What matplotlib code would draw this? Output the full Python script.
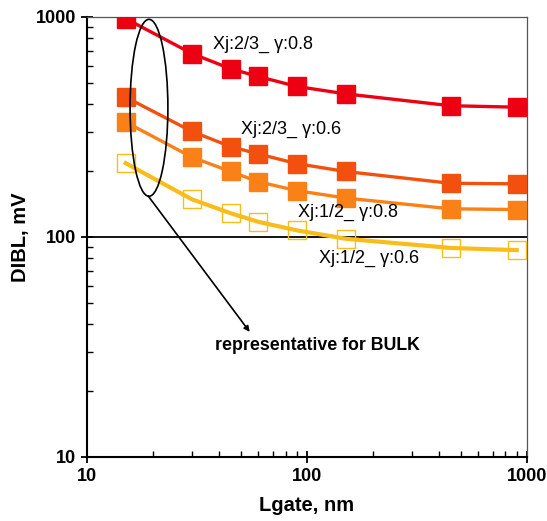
import numpy as np
import matplotlib.pyplot as plt
from matplotlib.patches import Ellipse

plt.rcParams['font.family'] = ['Liberation Sans', 'DejaVu Sans']

# gate length (nm) and DIBL (mV)
lgate = [15, 30, 45, 60, 90, 150, 450, 900]
dibl_23_08 = [980, 680, 580, 535, 482, 446, 394, 388]
dibl_23_06 = [431, 301, 257, 238, 215, 198, 175, 174]
dibl_12_08 = [332, 230, 198, 178, 162, 150, 134, 133]
dibl_12_06 = [216, 148, 128, 117, 107, 98, 89, 87]

series = [
    (dibl_23_08, '#ec0012', True),
    (dibl_23_06, '#f3500f', True),
    (dibl_12_08, '#f98117', True),
    (dibl_12_06, '#f8bd1a', False),
]

fig = plt.figure(figsize=(5.47, 5.21), dpi=100)
ax = fig.add_axes([0.159, 0.123, 0.804, 0.845])

for vals, col, filled in series:
    ax.plot(lgate, vals, color=col, lw=2.4 if filled else 3.0, zorder=2)
    ax.plot(lgate, vals, ls='none', marker='s', ms=13,
            mfc=col if filled else 'none', mec=col, mew=1.0, zorder=3)

ax.axhline(100, color='black', lw=1.3, zorder=1)

ax.set_xscale('log')
ax.set_yscale('log')
ax.set_xlim(10, 1000)
ax.set_ylim(10, 1000)
ax.set_xticks([10, 100, 1000])
ax.set_yticks([10, 100, 1000])
ax.set_xticklabels(['10', '100', '1000'], fontweight='bold', fontsize=13)
ax.set_yticklabels(['10', '100', '1000'], fontweight='bold', fontsize=13)
ax.tick_params(which='major', direction='inout', length=8, width=1.3,
               top=False, right=False, pad=4)
ax.tick_params(which='minor', direction='in', length=4, width=1.0,
               top=False, right=False, labelbottom=False, labelleft=False)

for s in ['left', 'bottom']:
    ax.spines[s].set_linewidth(1.5)
for s in ['top', 'right']:
    ax.spines[s].set_linewidth(0.9)
    ax.spines[s].set_color('#555555')

ax.set_xlabel('Lgate, nm', fontweight='bold', fontsize=14.5, labelpad=8)
ax.set_ylabel('DIBL, mV', fontweight='bold', fontsize=14.5, labelpad=4)

# curve labels
labels = [
    ('Xj:2/3_ \u03b3:0.8', 0.287, 0.936),
    ('Xj:2/3_ \u03b3:0.6', 0.350, 0.743),
    ('Xj:1/2_ \u03b3:0.8', 0.479, 0.555),
    ('Xj:1/2_ \u03b3:0.6', 0.527, 0.450),
]
for txt, x, y in labels:
    ax.text(x, y, txt, transform=ax.transAxes, fontsize=13,
            ha='left', va='center')

ell = Ellipse((0.141, 0.793), 0.086, 0.402, transform=ax.transAxes,
              fill=False, ec='black', lw=1.2, zorder=4)
ax.add_patch(ell)
ax.annotate('', xy=(0.370, 0.284), xytext=(0.139, 0.593),
            xycoords='axes fraction', textcoords='axes fraction',
            arrowprops=dict(arrowstyle='-|>', color='black', lw=1.2,
                            mutation_scale=8, shrinkA=0, shrinkB=0))
ax.text(0.291, 0.252, 'representative for BULK', transform=ax.transAxes,
        fontsize=12.8, fontweight='bold', ha='left', va='center')

fig.savefig('out.png', dpi=100)
